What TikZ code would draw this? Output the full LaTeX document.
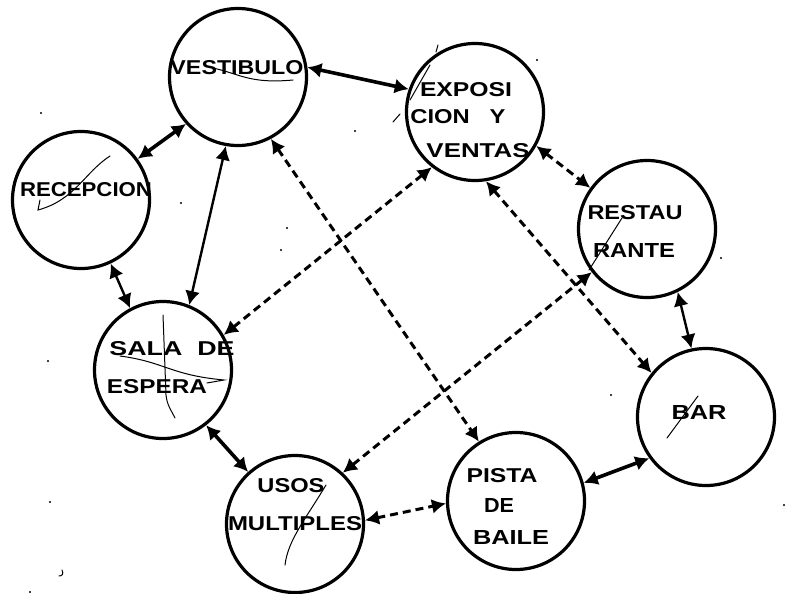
\documentclass[tikz,border=0pt]{standalone}
\usepackage{fontspec}
\usepackage{graphicx}
\setmainfont{Liberation Sans}
\usetikzlibrary{arrows.meta}
\newcommand{\fitw}[2]{\resizebox{#1pt}{14pt}{\textbf{#2}}}
\tikzset{
 room/.style={circle,draw=black,line width=3.2pt,minimum size=137pt,inner sep=0pt},
 lbl/.style={inner sep=0pt,anchor=center},
 solidlink/.style={line width=2.4pt,{Latex[length=14pt,width=15pt]}-{Latex[length=14pt,width=15pt]}},
 thicklink/.style={solidlink,line width=3.6pt},
 dashlink/.style={line width=3pt,dash pattern=on 8pt off 5pt,{Latex[length=14pt,width=15pt]}-{Latex[length=14pt,width=15pt]}},
 scribble/.style={line width=1pt,line cap=round},
 speck/.style={fill=black,draw=none}
}
\begin{document}
\begin{tikzpicture}[x=1pt,y=-1pt]
\useasboundingbox (0,0) rectangle (787,594);
\node[room] (v) at (238,77) {};
\node[room] (e) at (475,112) {};
\node[room] (rc) at (81,200) {};
\node[room] (rs) at (647,229) {};
\node[room] (s) at (163,370) {};
\node[room] (b) at (706,417) {};
\node[room] (p) at (516,501) {};
\node[room] (u) at (295,524) {};
\node[lbl] (t1) at (237,68) {\fitw{133}{VESTIBULO}};
\node[lbl] (t2) at (466,90) {\fitw{92}{EXPOSI}};
\node[lbl] (t3) at (458,117) {\fitw{95}{CION\ \ \ Y}};
\node[lbl] (t4) at (478,151) {\fitw{103}{VENTAS}};
\node[lbl] (t5) at (86,190) {\fitw{132}{RECEPCION}};
\node[lbl] (t6) at (635,213) {\fitw{95}{RESTAU}};
\node[lbl] (t7) at (634,250) {\fitw{82}{RANTE}};
\node[lbl] (t8) at (172,349) {\fitw{125}{SALA\ \ DE}};
\node[lbl] (t9) at (157,387) {\fitw{100}{ESPERA}};
\node[lbl] (t10) at (291,486) {\fitw{67}{USOS}};
\node[lbl] (t11) at (295,524) {\fitw{134}{MULTIPLES}};
\node[lbl] (t12) at (502,476) {\fitw{71}{PISTA}};
\node[lbl] (t13) at (499,505) {\fitw{30}{DE}};
\node[lbl] (t14) at (511,537) {\fitw{76}{BAILE}};
\node[lbl] (t15) at (699,412) {\fitw{55}{BAR}};
\draw[thicklink] (v.8) -- (e.161);
\draw[thicklink] (rc.36) -- (v.222);
\draw[solidlink] (rc.-65) -- (s.118);
\draw[solidlink] (v.260) -- (s.68);
\draw[thicklink] (s.-52) -- (u.132);
\draw[solidlink] (rs.-64) -- (b.102);
\draw[thicklink] (p.15) -- (b.216);
\draw[dashlink] (e.-29) -- (rs.144);
\draw[dashlink] (e.-81) -- (b.141);
\draw[dashlink] (e.232) -- (s.30);
\draw[dashlink] (v.-62) -- (p.122);
\draw[dashlink] (rs.218) -- (u.47);
\draw[dashlink] (u.3) -- (p.182);
\draw[scribble] (213,68) .. controls (240,74) and (250,84) .. (293,80);
\draw[scribble] (430,65) -- (410,100);
\draw[scribble] (436,52) -- (438,45);
\draw[scribble] (393,122) -- (400,114);
\draw[scribble] (110,156) .. controls (85,172) and (75,200) .. (38,210) -- (40,200);
\draw[scribble] (622,218) -- (589,270);
\draw[scribble] (120,356) .. controls (165,362) and (170,375) .. (224,380) -- (207,383);
\draw[scribble] (163,315) -- (166,395) .. controls (167,405) and (171,410) .. (175,418);
\draw[scribble] (698,396) -- (667,438);
\draw[scribble] (326,485) .. controls (305,520) and (288,540) .. (285,565);
\foreach \x/\y in {41/113,181/203,287/228,281/250,355/131,48/361,50/502,30/592,537/60,721/258,611/395,784/505}{\fill[speck] (\x,\y) circle (1.2pt);}
\draw[scribble] (62,570) .. controls (64,574) and (62,576) .. (59,576);
\end{tikzpicture}
\end{document}
